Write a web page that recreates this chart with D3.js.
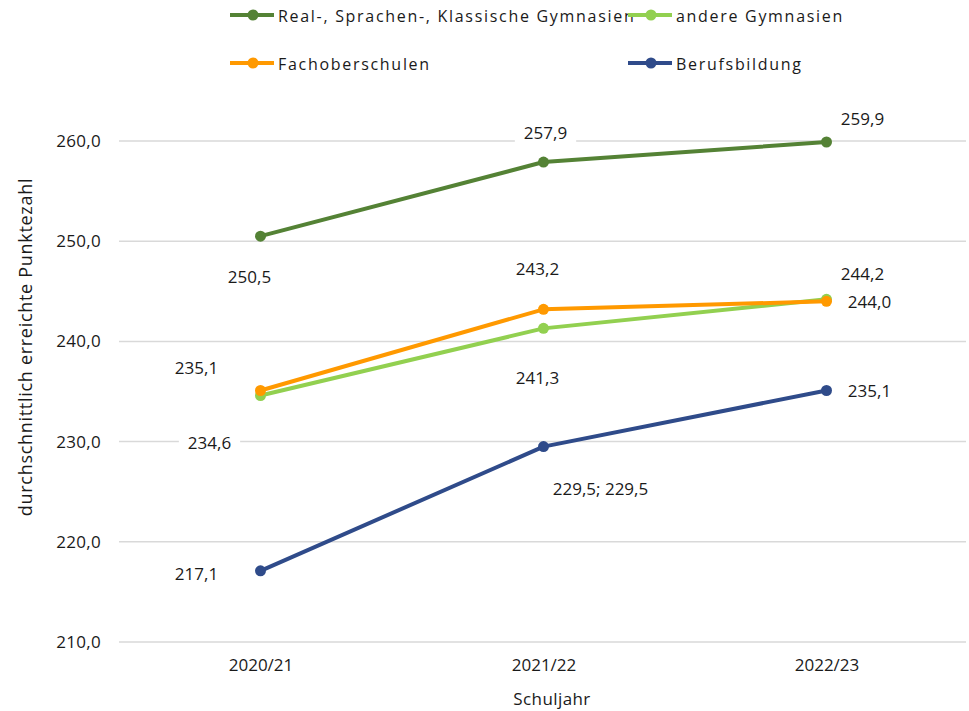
<!DOCTYPE html>
<html>
<head>
<meta charset="utf-8">
<script src="https://cdn.jsdelivr.net/npm/d3@7"></script>
<style>
  body { margin: 0; background: #fff; }
  svg text { font-family: "Open Sans", "Noto Sans", sans-serif; fill: #1a1a1a; }
</style>
</head>
<body>
<svg id="chart" width="969" height="711"></svg>
<script>
// categories and series
const years = ["2020/21", "2021/22", "2022/23"];
const seriesNames = ["Real-, Sprachen-, Klassische Gymnasien", "andere Gymnasien", "Fachoberschulen", "Berufsbildung"];
const gymReal = [250.5, 257.9, 259.9];
const gymAndere = [234.6, 241.3, 244.2];
const fachober = [235.1, 243.2, 244.0];
const beruf = [217.1, 229.5, 235.1];
const yTicks = [210, 220, 230, 240, 250, 260];

// label text per point (Excel merged the two 229,5 labels)
const labelsReal = ["250,5", "257,9", "259,9"];
const labelsAndere = ["234,6", "241,3", "244,2"];
const labelsFach = ["235,1", "243,2", "244,0"];
const labelsBeruf = ["217,1", "229,5; 229,5", "235,1"];

const colors = ["#548235", "#92d050", "#ff9900", "#2f4b8a"];

// label offsets (dx, dy from point), and whether the label has a white box
const offReal = [[-11, 40, 0], [2, -30, 1], [36, -24, 0]];
const offAndere = [[-51, 47, 1], [-6, 49, 0], [36, -26, 0]];
const offFach = [[-64, -23, 0], [-6, -41, 0], [43, 0, 0]];
const offBeruf = [[-64, 3, 0], [57, 42, 0], [43, 0, 0]];

const series = [
  { name: seriesNames[0], values: gymReal, labels: labelsReal, off: offReal, color: colors[0] },
  { name: seriesNames[1], values: gymAndere, labels: labelsAndere, off: offAndere, color: colors[1] },
  { name: seriesNames[2], values: fachober, labels: labelsFach, off: offFach, color: colors[2] },
  { name: seriesNames[3], values: beruf, labels: labelsBeruf, off: offBeruf, color: colors[3] }
];

const svg = d3.select("#chart");

const x = d3.scalePoint().domain(years).range([119, 968]).padding(0.5);
const y = d3.scaleLinear().domain([210, 260]).range([642, 141]);

// gridlines
svg.append("g").selectAll("line")
  .data(yTicks).join("line")
  .attr("x1", 119).attr("x2", 966)
  .attr("y1", d => y(d)).attr("y2", d => y(d))
  .attr("stroke", "#d9d9d9").attr("stroke-width", 1.5);

// y axis labels
const fmt = d => d3.format(".1f")(d).replace(".", ",");
const yAxis = svg.append("g").attr("transform", "translate(101,0)")
  .call(d3.axisLeft(y).tickValues(yTicks).tickFormat(fmt).tickSize(0).tickPadding(0));
yAxis.select(".domain").remove();
yAxis.selectAll("text").attr("font-size", 17).attr("letter-spacing", 0.3)
  .style("font-family", "'Open Sans', sans-serif").attr("fill", "#1a1a1a");

// x axis labels
const xAxis = svg.append("g").attr("transform", "translate(0,659)")
  .call(d3.axisBottom(x).tickSize(0).tickPadding(0));
xAxis.select(".domain").remove();
xAxis.selectAll("text").attr("font-size", 17).attr("dy", "0.71em")
  .style("font-family", "'Open Sans', sans-serif").attr("fill", "#1a1a1a");

// axis titles
svg.append("text")
  .attr("x", 552).attr("y", 705)
  .attr("text-anchor", "middle").attr("font-size", 17).attr("letter-spacing", 0.4)
  .text("Schuljahr");

svg.append("text")
  .attr("transform", "translate(32,347) rotate(-90)")
  .attr("text-anchor", "middle").attr("font-size", 18).attr("letter-spacing", 0.7)
  .text("durchschnittlich erreichte Punktezahl");

// lines
const line = d3.line().x((d, i) => x(years[i])).y(d => y(d));

series.forEach(s => {
  const g = svg.append("g");
  g.append("path")
    .attr("d", line(s.values))
    .attr("fill", "none").attr("stroke", s.color)
    .attr("stroke-width", 4).attr("stroke-linejoin", "round");
  g.selectAll("circle").data(s.values).join("circle")
    .attr("cx", (d, i) => x(years[i])).attr("cy", d => y(d))
    .attr("r", 5.5).attr("fill", s.color);
});

// data labels
series.forEach(s => {
  s.values.forEach((v, i) => {
    const o = s.off[i];
    const tx = x(years[i]) + o[0];
    const ty = y(v) + o[1];
    const t = svg.append("text")
      .attr("x", tx).attr("y", ty)
      .attr("text-anchor", "middle").attr("dominant-baseline", "central")
      .attr("font-size", 17)
      .text(s.labels[i]);
    if (o[2]) {
      const b = t.node().getBBox();
      svg.insert("rect", () => t.node())
        .attr("x", b.x - 9).attr("y", b.y - 2)
        .attr("width", b.width + 18).attr("height", b.height + 4)
        .attr("fill", "#fff");
    }
  });
});

// legend
const legendPos = [[230, 15], [628, 15], [230, 63], [628, 63]];
const legend = svg.append("g");
series.forEach((s, i) => {
  const [lx, ly] = legendPos[i];
  const g = legend.append("g").attr("transform", `translate(${lx},${ly})`);
  g.append("line").attr("x1", 0).attr("x2", 44).attr("y1", 0).attr("y2", 0)
    .attr("stroke", s.color).attr("stroke-width", 4);
  g.append("circle").attr("cx", 23).attr("cy", 0).attr("r", 5.5).attr("fill", s.color);
  g.append("text").attr("x", 48).attr("y", 1)
    .attr("dominant-baseline", "central")
    .attr("font-size", 16).attr("letter-spacing", 1.7)
    .text(s.name);
});
</script>
</body>
</html>
